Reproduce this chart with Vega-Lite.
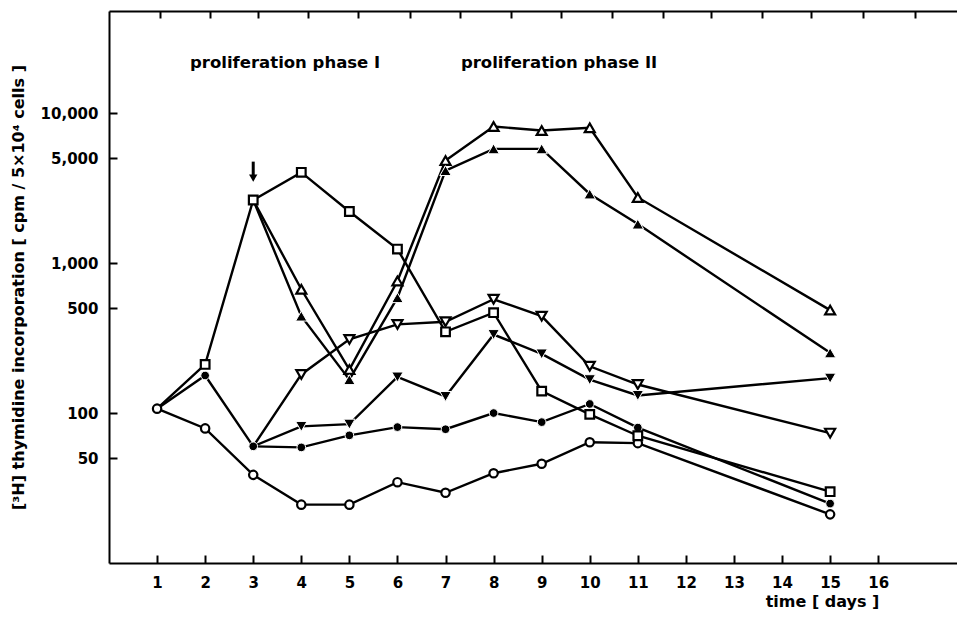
{
  "$schema": "https://vega.github.io/schema/vega-lite/v6.json",
  "width": 849,
  "height": 552,
  "autosize": "none",
  "padding": {"left": 109, "top": 11, "right": 0, "bottom": 57},
  "background": "white",
  "config": {
    "view": {"stroke": null},
    "font": "DejaVu Sans",
    "axis": {
      "grid": false,
      "domainColor": "black",
      "domainWidth": 2,
      "tickColor": "black",
      "tickWidth": 2,
      "labelColor": "black",
      "titleColor": "black",
      "labelFont": "DejaVu Sans",
      "titleFont": "DejaVu Sans",
      "labelFontSize": 15,
      "labelFontWeight": "bold",
      "titleFontSize": 15,
      "titleFontWeight": "bold"
    }
  },
  "datasets": {
    "series": [
      {"series": "open circle", "day": 1, "value": 107},
      {"series": "open circle", "day": 2, "value": 79},
      {"series": "open circle", "day": 3, "value": 38.7},
      {"series": "open circle", "day": 4, "value": 24.5},
      {"series": "open circle", "day": 5, "value": 24.5},
      {"series": "open circle", "day": 6, "value": 34.6},
      {"series": "open circle", "day": 7, "value": 29.4},
      {"series": "open circle", "day": 8, "value": 39.7},
      {"series": "open circle", "day": 9, "value": 45.9},
      {"series": "open circle", "day": 10, "value": 63.9},
      {"series": "open circle", "day": 11, "value": 63},
      {"series": "open circle", "day": 15, "value": 21.1},
      {"series": "filled circle", "day": 1, "value": 107},
      {"series": "filled circle", "day": 2, "value": 178},
      {"series": "filled circle", "day": 3, "value": 60},
      {"series": "filled circle", "day": 4, "value": 59},
      {"series": "filled circle", "day": 5, "value": 71},
      {"series": "filled circle", "day": 6, "value": 80.6},
      {"series": "filled circle", "day": 7, "value": 78},
      {"series": "filled circle", "day": 8, "value": 100},
      {"series": "filled circle", "day": 9, "value": 87},
      {"series": "filled circle", "day": 10, "value": 115},
      {"series": "filled circle", "day": 11, "value": 80},
      {"series": "filled circle", "day": 15, "value": 24.9},
      {"series": "open square", "day": 1, "value": 107},
      {"series": "open square", "day": 2, "value": 211},
      {"series": "open square", "day": 3, "value": 2635},
      {"series": "open square", "day": 4, "value": 4030},
      {"series": "open square", "day": 5, "value": 2210},
      {"series": "open square", "day": 6, "value": 1240},
      {"series": "open square", "day": 7, "value": 348},
      {"series": "open square", "day": 8, "value": 467},
      {"series": "open square", "day": 9, "value": 140},
      {"series": "open square", "day": 10, "value": 98},
      {"series": "open square", "day": 11, "value": 70.6},
      {"series": "open square", "day": 15, "value": 29.9},
      {"series": "open triangle", "day": 3, "value": 2635},
      {"series": "open triangle", "day": 4, "value": 669},
      {"series": "open triangle", "day": 5, "value": 195},
      {"series": "open triangle", "day": 6, "value": 760},
      {"series": "open triangle", "day": 7, "value": 4830},
      {"series": "open triangle", "day": 8, "value": 8150},
      {"series": "open triangle", "day": 9, "value": 7660},
      {"series": "open triangle", "day": 10, "value": 7980},
      {"series": "open triangle", "day": 11, "value": 2740},
      {"series": "open triangle", "day": 15, "value": 486},
      {"series": "filled triangle", "day": 3, "value": 2635},
      {"series": "filled triangle", "day": 4, "value": 443},
      {"series": "filled triangle", "day": 5, "value": 167},
      {"series": "filled triangle", "day": 6, "value": 588},
      {"series": "filled triangle", "day": 7, "value": 4140},
      {"series": "filled triangle", "day": 8, "value": 5780},
      {"series": "filled triangle", "day": 9, "value": 5780},
      {"series": "filled triangle", "day": 10, "value": 2890},
      {"series": "filled triangle", "day": 11, "value": 1820},
      {"series": "filled triangle", "day": 15, "value": 252},
      {"series": "open inverted triangle", "day": 3, "value": 60},
      {"series": "open inverted triangle", "day": 4, "value": 181},
      {"series": "open inverted triangle", "day": 5, "value": 310},
      {"series": "open inverted triangle", "day": 6, "value": 390},
      {"series": "open inverted triangle", "day": 7, "value": 406},
      {"series": "open inverted triangle", "day": 8, "value": 574},
      {"series": "open inverted triangle", "day": 9, "value": 443},
      {"series": "open inverted triangle", "day": 10, "value": 205},
      {"series": "open inverted triangle", "day": 11, "value": 155},
      {"series": "open inverted triangle", "day": 15, "value": 73.5},
      {"series": "filled inverted triangle", "day": 3, "value": 60},
      {"series": "filled inverted triangle", "day": 4, "value": 81.5},
      {"series": "filled inverted triangle", "day": 5, "value": 84.4},
      {"series": "filled inverted triangle", "day": 6, "value": 174},
      {"series": "filled inverted triangle", "day": 7, "value": 129},
      {"series": "filled inverted triangle", "day": 8, "value": 334},
      {"series": "filled inverted triangle", "day": 9, "value": 248},
      {"series": "filled inverted triangle", "day": 10, "value": 167},
      {"series": "filled inverted triangle", "day": 11, "value": 131},
      {"series": "filled inverted triangle", "day": 15, "value": 171}
    ],
    "labels": [
      {"day": 1.685, "value": 21500, "label": "proliferation phase I"},
      {"day": 7.32, "value": 21500, "label": "proliferation phase II"}
    ],
    "arrow": [
      {"day": 3, "value": 4750, "value2": 3690}
    ]
  },
  "resolve": {"axis": {"x": "independent"}},
  "layer": [
    {
      "data": {"name": "series"},
      "mark": {"type": "line", "color": "black", "strokeWidth": 2.4},
      "encoding": {
        "x": {
          "field": "day", "type": "quantitative",
          "scale": {"domain": [0, 17.66], "nice": false, "zero": false},
          "axis": {
            "orient": "bottom",
            "values": [1, 2, 3, 4, 5, 6, 7, 8, 9, 10, 11, 12, 13, 14, 15, 16],
            "tickSize": -8,
            "labelPadding": 20,
            "title": "time  [ days ]",
            "titleX": 713,
            "titleY": 38,
            "titleAlign": "center",
            "titleBaseline": "middle",
            "titleFontSize": 16
          }
        },
        "y": {
          "field": "value", "type": "quantitative",
          "scale": {"type": "log", "domain": [10, 48000], "nice": false},
          "axis": {
            "orient": "left",
            "values": [50, 100, 500, 1000, 5000, 10000],
            "format": ",",
            "tickSize": -8,
            "labelPadding": 19,
            "title": "[³H] thymidine incorporation    [ cpm / 5×10⁴ cells ]",
            "titleFontSize": 16,
            "titleAngle": -90,
            "titleX": -91,
            "titleY": 276,
            "titleAlign": "center",
            "titleBaseline": "middle"
          }
        },
        "detail": {"field": "series"}
      }
    },
    {
      "data": {"name": "series"},
      "transform": [
        {"filter": "!((datum.series == 'filled circle' || datum.series == 'open square') && datum.day == 1) && !((datum.series == 'open triangle' || datum.series == 'filled triangle' || datum.series == 'open inverted triangle' || datum.series == 'filled inverted triangle') && datum.day == 3)"}
      ],
      "mark": {"type": "point", "filled": true, "opacity": 1},
      "encoding": {
        "x": {
          "field": "day", "type": "quantitative",
          "axis": {
            "orient": "top",
            "values": [1.061, 2.101, 3.1, 4.14, 5.18, 6.262, 7.302, 8.363, 9.403, 10.464, 11.525, 12.523, 13.584, 14.604, 15.686, 16.767],
            "labels": false,
            "title": null,
            "tickSize": -7
          }
        },
        "y": {"field": "value", "type": "quantitative"},
        "shape": {
          "field": "series", "type": "nominal", "legend": null,
          "scale": {
            "domain": ["open circle", "filled circle", "open square", "open triangle", "filled triangle", "open inverted triangle", "filled inverted triangle"],
            "range": ["circle", "circle", "square", "triangle-up", "triangle-up", "triangle-down", "triangle-down"]
          }
        },
        "fill": {
          "field": "series", "type": "nominal", "legend": null,
          "scale": {
            "domain": ["open circle", "filled circle", "open square", "open triangle", "filled triangle", "open inverted triangle", "filled inverted triangle"],
            "range": ["white", "black", "white", "white", "black", "white", "black"]
          }
        },
        "stroke": {
          "field": "series", "type": "nominal", "legend": null,
          "scale": {
            "domain": ["open circle", "filled circle", "open square", "open triangle", "filled triangle", "open inverted triangle", "filled inverted triangle"],
            "range": ["black", "white", "black", "black", "white", "black", "white"]
          }
        },
        "strokeWidth": {
          "field": "series", "type": "nominal", "legend": null,
          "scale": {
            "type": "ordinal",
            "domain": ["open circle", "filled circle", "open square", "open triangle", "filled triangle", "open inverted triangle", "filled inverted triangle"],
            "range": [2.2, 1, 2.2, 2.2, 1, 2.2, 1]
          }
        },
        "size": {
          "field": "series", "type": "nominal", "legend": null,
          "scale": {
            "type": "ordinal",
            "domain": ["open circle", "filled circle", "open square", "open triangle", "filled triangle", "open inverted triangle", "filled inverted triangle"],
            "range": [70, 75, 75, 100, 130, 100, 130]
          }
        }
      }
    },
    {
      "data": {"name": "labels"},
      "mark": {"type": "text", "align": "left", "baseline": "middle", "fontSize": 16.5, "fontWeight": "bold", "font": "DejaVu Sans", "color": "black"},
      "encoding": {
        "x": {"field": "day", "type": "quantitative", "axis": null},
        "y": {"field": "value", "type": "quantitative"},
        "text": {"field": "label"}
      }
    },
    {
      "data": {"name": "arrow"},
      "mark": {"type": "rule", "color": "black", "strokeWidth": 3},
      "encoding": {
        "x": {"field": "day", "type": "quantitative", "axis": null},
        "y": {"field": "value", "type": "quantitative"},
        "y2": {"field": "value2"}
      }
    },
    {
      "data": {"name": "arrow"},
      "mark": {"type": "point", "shape": "triangle-down", "filled": true, "color": "black", "size": 70, "opacity": 1},
      "encoding": {
        "x": {"field": "day", "type": "quantitative", "axis": null},
        "y": {"field": "value2", "type": "quantitative"}
      }
    }
  ]
}
